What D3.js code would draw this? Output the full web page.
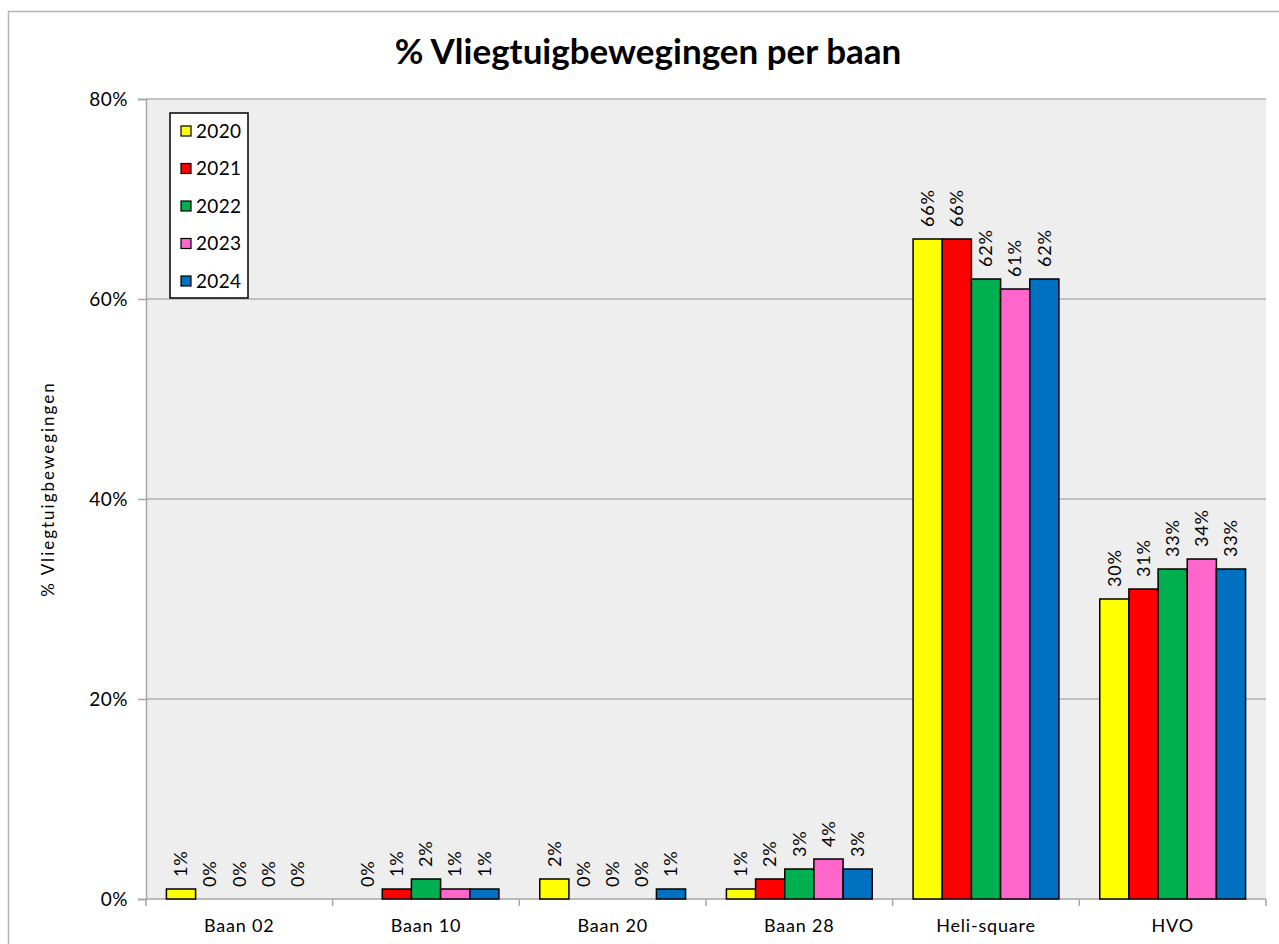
<!DOCTYPE html>
<html>
<head>
<meta charset="utf-8">
<script src="https://cdn.jsdelivr.net/npm/d3@7"></script>
<style>
  body { margin: 0; background: #fff; }
  svg text { font-family: Lato, "Open Sans", sans-serif; fill: #000; }
</style>
</head>
<body>
<div id="chart"></div>
<script>
// data
var categories = ["Baan 02", "Baan 10", "Baan 20", "Baan 28", "Heli-square", "HVO"];
var years = ["2020", "2021", "2022", "2023", "2024"];
var values2020 = [1, 0, 2, 1, 66, 30];
var values2021 = [0, 1, 0, 2, 66, 31];
var values2022 = [0, 2, 0, 3, 62, 33];
var values2023 = [0, 1, 0, 4, 61, 34];
var values2024 = [0, 1, 1, 3, 62, 33];
var yTicks = [0, 20, 40, 60, 80];

var seriesValues = [values2020, values2021, values2022, values2023, values2024];
var colors = ["#ffff00", "#ff0000", "#00b050", "#ff66cc", "#0070c0"];

var svgWidth = 1279;
var svgHeight = 944;

var margin = { top: 99, right: 13, bottom: 45, left: 146 };
var width = svgWidth - margin.left - margin.right;
var height = svgHeight - margin.top - margin.bottom;

var svg = d3.select("#chart")
  .append("svg")
  .attr("width", svgWidth)
  .attr("height", svgHeight);

// outer chart border
svg.append("rect")
  .attr("x", 8.5)
  .attr("y", 11.5)
  .attr("width", 1290)
  .attr("height", 960)
  .attr("fill", "none")
  .attr("stroke", "#b4b4b4")
  .attr("stroke-width", 1.5);

svg.append("text")
  .attr("x", 648)
  .attr("y", 64)
  .attr("text-anchor", "middle")
  .style("font-size", "35px")
  .style("font-weight", "bold")
  .text("% Vliegtuigbewegingen per baan");

var chartGroup = svg.append("g")
  .attr("transform", `translate(${margin.left}, ${margin.top})`);

var xScale = d3.scaleBand()
  .domain(categories)
  .range([0, width]);

var xInner = d3.scaleBand()
  .domain(years)
  .range([0, xScale.bandwidth()])
  .paddingOuter(0.7);

var yScale = d3.scaleLinear()
  .domain([0, 80])
  .range([height, 0]);

chartGroup.append("rect")
  .attr("width", width)
  .attr("height", height)
  .attr("fill", "#eeeeee");

// gridlines
chartGroup.append("g")
  .selectAll("line")
  .data(yTicks.filter(d => d > 0))
  .enter()
  .append("line")
  .attr("x1", 0)
  .attr("x2", width)
  .attr("y1", d => yScale(d))
  .attr("y2", d => yScale(d))
  .attr("stroke", "#b0b0b0")
  .attr("stroke-width", 1.5);

// y axis
var leftAxis = d3.axisLeft(yScale)
  .tickValues(yTicks)
  .tickFormat(d => d + "%")
  .tickSize(8)
  .tickPadding(10);

var yAxis = chartGroup.append("g").call(leftAxis);
yAxis.select(".domain").attr("stroke", "#a6a6a6").attr("stroke-width", 1.5);
yAxis.selectAll(".tick line").attr("stroke", "#a6a6a6").attr("stroke-width", 1.5);
yAxis.selectAll(".tick text")
  .style("font-size", "19px")
  .style("letter-spacing", "0.5px")
  .attr("dy", "0.35em");

// x axis, ticks on the category boundaries
var xAxisGroup = chartGroup.append("g")
  .attr("transform", `translate(0, ${height})`);

xAxisGroup.append("line")
  .attr("x1", 0)
  .attr("x2", width)
  .attr("stroke", "#a6a6a6")
  .attr("stroke-width", 1.5);

var bounds = categories.map(c => xScale(c)).concat([width]);
xAxisGroup.selectAll("line.tk")
  .data(bounds)
  .enter()
  .append("line")
  .attr("class", "tk")
  .attr("x1", d => d)
  .attr("x2", d => d)
  .attr("y1", 0)
  .attr("y2", 7)
  .attr("stroke", "#a6a6a6")
  .attr("stroke-width", 1.5);

xAxisGroup.selectAll("text")
  .data(categories)
  .enter()
  .append("text")
  .attr("x", d => xScale(d) + xScale.bandwidth() / 2)
  .attr("y", 33)
  .attr("text-anchor", "middle")
  .style("font-size", "18px")
  .style("letter-spacing", "0.8px")
  .text(d => d);

// y axis title
svg.append("text")
  .attr("transform", "translate(54, 489) rotate(-90)")
  .attr("text-anchor", "middle")
  .style("font-size", "17px")
  .style("letter-spacing", "2px")
  .text("% Vliegtuigbewegingen");

// bars
var rows = [];
categories.forEach(function(c, i) {
  years.forEach(function(y, j) {
    rows.push({ cat: c, year: y, value: seriesValues[j][i], color: colors[j] });
  });
});

var groups = chartGroup.append("g");

groups.selectAll("rect")
  .data(rows.filter(d => d.value > 0))
  .enter()
  .append("rect")
  .attr("x", d => xScale(d.cat) + xInner(d.year))
  .attr("y", d => yScale(d.value))
  .attr("width", xInner.bandwidth())
  .attr("height", d => height - yScale(d.value))
  .attr("fill", d => d.color)
  .attr("stroke", "#000")
  .attr("stroke-width", 1.5);

groups.selectAll("text")
  .data(rows)
  .enter()
  .append("text")
  .attr("transform", function(d) {
    var x = xScale(d.cat) + xInner(d.year) + xInner.bandwidth() / 2;
    var y = yScale(d.value) - 12;
    return `translate(${x}, ${y}) rotate(-90)`;
  })
  .attr("dy", "0.35em")
  .style("font-size", "18px")
  .style("letter-spacing", "0.8px")
  .text(d => d.value + "%");

// legend
var legend = svg.append("g")
  .attr("transform", "translate(170, 113)");

legend.append("rect")
  .attr("width", 78)
  .attr("height", 185)
  .attr("fill", "#fff")
  .attr("stroke", "#000")
  .attr("stroke-width", 1.5);

var items = legend.selectAll("g")
  .data(years)
  .enter()
  .append("g")
  .attr("transform", (d, i) => `translate(11, ${18 + i * 37.5})`);

items.append("rect")
  .attr("y", -5)
  .attr("width", 10)
  .attr("height", 10)
  .attr("fill", (d, i) => colors[i])
  .attr("stroke", "#000")
  .attr("stroke-width", 1.2);

items.append("text")
  .attr("x", 15)
  .attr("dy", "0.35em")
  .style("font-size", "19px")
  .style("letter-spacing", "0.3px")
  .text(d => d);
</script>
</body>
</html>
